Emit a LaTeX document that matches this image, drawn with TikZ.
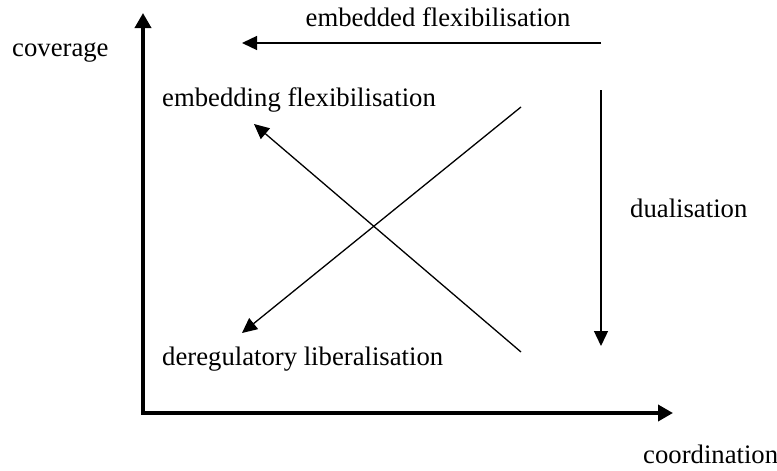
\documentclass[tikz,border=0pt]{standalone}
\usepackage{fontspec}
\setmainfont{Liberation Serif}
\usetikzlibrary{arrows.meta}
\begin{document}
\begin{tikzpicture}[x=1pt,y=-1pt,
  lbl/.style={anchor=base west,inner sep=0pt,font=\fontsize{26.7}{30}\selectfont},
  thinarr/.style={line width=1.3pt,-{Triangle[length=15pt,width=14pt]}},
  axis/.style={line width=3.6pt,line join=miter,{Triangle[length=15pt,width=16pt]}-{Triangle[length=15pt,width=16pt]}}]
\useasboundingbox (0,0) rectangle (777,471);
% axes
\coordinate (ytop) at (143,13);
\coordinate (orig) at (143,413);
\coordinate (xend) at (673,413);
\draw[axis] (ytop) -- (orig) -- (xend);
% labels
\node[lbl] (cov) at (12,56) {coverage};
\node[lbl] (coord) at (643,463) {coordination};
\node[lbl,anchor=base] (embd) at (438,27) {embedded flexibilisation};
\node[lbl] (embg) at (162,106) {embedding flexibilisation};
\node[lbl] (dual) at (630,217) {dualisation};
\node[lbl] (dereg) at (162,365) {deregulatory liberalisation};
% arrows
\coordinate (a1s) at (601,43);
\coordinate (a1e) at (242,43);
\coordinate (a2s) at (601,90);
\coordinate (a2e) at (601,346);
\coordinate (a3s) at (521,107);
\coordinate (a3e) at (242,333);
\coordinate (a4s) at (521,352);
\coordinate (a4e) at (254,124);
\draw[thinarr] (a1s) -- (a1e);
\draw[thinarr] (a2s) -- (a2e);
\draw[thinarr] (a3s) -- (a3e);
\draw[thinarr] (a4s) -- (a4e);
\end{tikzpicture}
\end{document}
